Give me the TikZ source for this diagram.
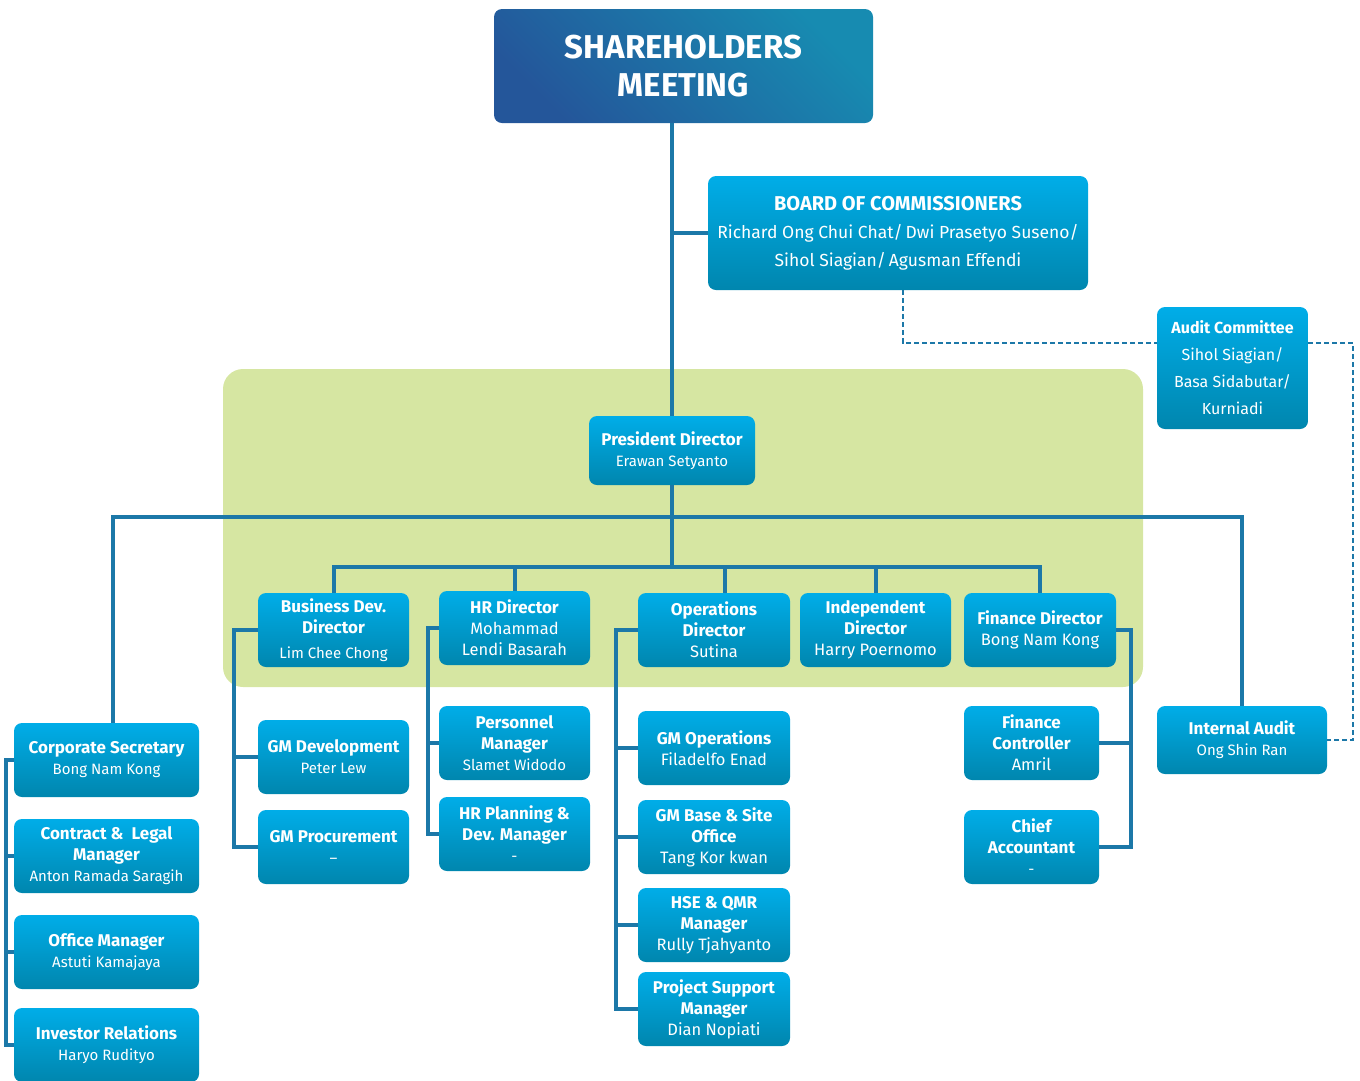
\documentclass[tikz,border=0pt]{standalone}
\usepackage{fontspec}
\setmainfont{Fira Sans}
\definecolor{boxtop}{HTML}{00ADE8}
\definecolor{boxbot}{HTML}{0086AE}
\definecolor{linkblue}{HTML}{1C78A8}
\definecolor{shdark}{HTML}{24569A}
\definecolor{shlight}{HTML}{178BB1}
\definecolor{panel}{HTML}{D6E6A2}
\newcommand{\who}[1]{{\fontsize{16.5}{21}\selectfont\mdseries #1}}
\newcommand{\whos}[1]{{\fontsize{15}{20}\selectfont\mdseries #1}}

\begin{document}
\begin{tikzpicture}[x=1pt, y=-1pt,
  post/.style={rounded corners=8pt, top color=boxtop, bottom color=boxbot,
    text=white, align=center, inner sep=2pt,
    minimum width=151pt, minimum height=74pt,
    font=\fontsize{17}{21}\selectfont\bfseries},
  link/.style={draw=linkblue, line width=4pt},
  dotlink/.style={draw=linkblue, line width=2pt, dash pattern=on 5pt off 3pt}]
  \useasboundingbox (0,0) rectangle (1360,1080);
  % board panel
  \fill[panel, rounded corners=20pt] (223,369) rectangle (1143,687);

  % top
  \node[post, minimum width=379pt, minimum height=114pt, left color=shdark,
    right color=shlight, shading angle=135,
    font=\fontsize{33}{38}\selectfont\bfseries] (sh) at (683.5,66)
    {SHAREHOLDERS\\MEETING};
  \node[post, minimum width=380pt, minimum height=114pt,
    font=\fontsize{20}{28}\selectfont\bfseries] (boc) at (898,233)
    {BOARD OF COMMISSIONERS\\
     {\fontsize{17.5}{28}\selectfont\mdseries Richard Ong Chui Chat/\,Dwi Prasetyo Suseno/}\\
     {\fontsize{17.5}{28}\selectfont\mdseries Sihol Siagian/\,Agusman Effendi}};
  \node[post, minimum width=151pt, minimum height=122pt,
    font=\fontsize{16}{27}\selectfont\bfseries] (ac) at (1232.5,368)
    {Audit Committee\\{\mdseries Sihol Siagian/}\\{\mdseries Basa Sidabutar/}\\
     {\mdseries Kurniadi}};
  \node[post, minimum width=166pt, minimum height=69pt] (pres) at (672,450.5)
    {President Director\\\whos{Erawan Setyanto}};

  % directors
  \node[post] (bdd) at (333.5,630) {Business Dev.\\Director\\[4pt]\whos{Lim Chee Chong}};
  \node[post] (hrd) at (514.5,628) {HR Director\\\who{Mohammad}\\\who{Lendi Basarah}};
  \node[post, minimum width=152pt] (opd) at (714,630) {Operations\\Director\\\who{Sutina}};
  \node[post] (ind) at (875.5,630) {Independent\\Director\\\who{Harry Poernomo}};
  \node[post, minimum width=152pt] (fid) at (1040,630) {Finance Director\\\who{Bong Nam Kong}};

  % managers
  \node[post] (gmdev) at (333.5,757) {GM Development\\\whos{Peter Lew}};
  \node[post] (gmproc) at (333.5,847) {GM Procurement\\\whos{--}};
  \node[post] (pers) at (514.5,743) {Personnel\\Manager\\\whos{Slamet Widodo}};
  \node[post] (hrpl) at (514.5,834) {HR Planning \&\\Dev. Manager\\\whos{-}};
  \node[post, minimum width=152pt] (gmops) at (714,748) {GM Operations\\\who{Filadelfo Enad}};
  \node[post, minimum width=152pt] (gmbase) at (714,837) {GM Base \& Site\\Office\\\who{Tang Kor kwan}};
  \node[post, minimum width=152pt] (hse) at (714,925) {HSE \& QMR\\Manager\\\who{Rully Tjahyanto}};
  \node[post, minimum width=152pt] (psm) at (714,1009) {Project Support\\Manager\\\who{Dian Nopiati}};
  \node[post, minimum width=135pt] (fc) at (1031.5,743) {Finance\\Controller\\\who{Amril}};
  \node[post, minimum width=135pt] (ca) at (1031.5,847) {Chief\\Accountant\\\whos{-}};
  \node[post, minimum width=170pt, minimum height=68pt] (ia) at (1242,740)
    {Internal Audit\\\whos{Ong Shin Ran}};
  \node[post, minimum width=185pt] (cs) at (106.5,760) {Corporate Secretary\\\whos{Bong Nam Kong}};
  \node[post, minimum width=185pt] (cl) at (106.5,856) {Contract \&~ Legal\\Manager\\\whos{Anton Ramada Saragih}};
  \node[post, minimum width=185pt] (om) at (106.5,952) {Office Manager\\\whos{Astuti Kamajaya}};
  \node[post, minimum width=185pt] (ir) at (106.5,1045) {Investor Relations\\\whos{Haryo Rudityo}};

  % lines
  \coordinate (bus) at (672,517);
  \coordinate (bus2) at (672,567);
  \draw[link] (pres.north |- sh.south) -- (pres.north);
  \draw[link] (pres.north |- boc.west) -- (boc.west);
  \draw[link] (pres.south) -- (bus2);
  \draw[link] ([xshift=6pt]cs.north) |- (bus) -| (ia.north);
  \draw[link] (bdd.north) |- (bus2) -| (fid.north);
  \foreach \d in {hrd,ind}
    \draw[link] (\d.north) -- (\d.north |- bus2);
  \draw[link] ([xshift=11pt]opd.north) -- ([xshift=11pt]opd.north |- bus2);

  \foreach \m in {gmdev,gmproc}
    \draw[link] (bdd.west) -- ++(-24,0) |- (\m.west);
  \foreach \m in {pers,hrpl}
    \draw[link] (hrd.west) -- ++(-11,0) |- (\m.west);
  \foreach \m in {gmops,gmbase,hse,psm}
    \draw[link] (opd.west) -- ++(-22,0) |- (\m.west);
  \foreach \m in {fc,ca}
    \draw[link] (fid.east) -- ++(15,0) |- (\m.east);
  \foreach \m in {cl,om,ir}
    \draw[link] (cs.west) -- ++(-8,0) |- (\m.west);

  \draw[dotlink] ([xshift=5pt]boc.south) |- ([yshift=25pt]ac.west);
  \draw[dotlink] ([yshift=25pt]ac.east) -- ++(45,0) |- (ia.east);
\end{tikzpicture}
\end{document}
